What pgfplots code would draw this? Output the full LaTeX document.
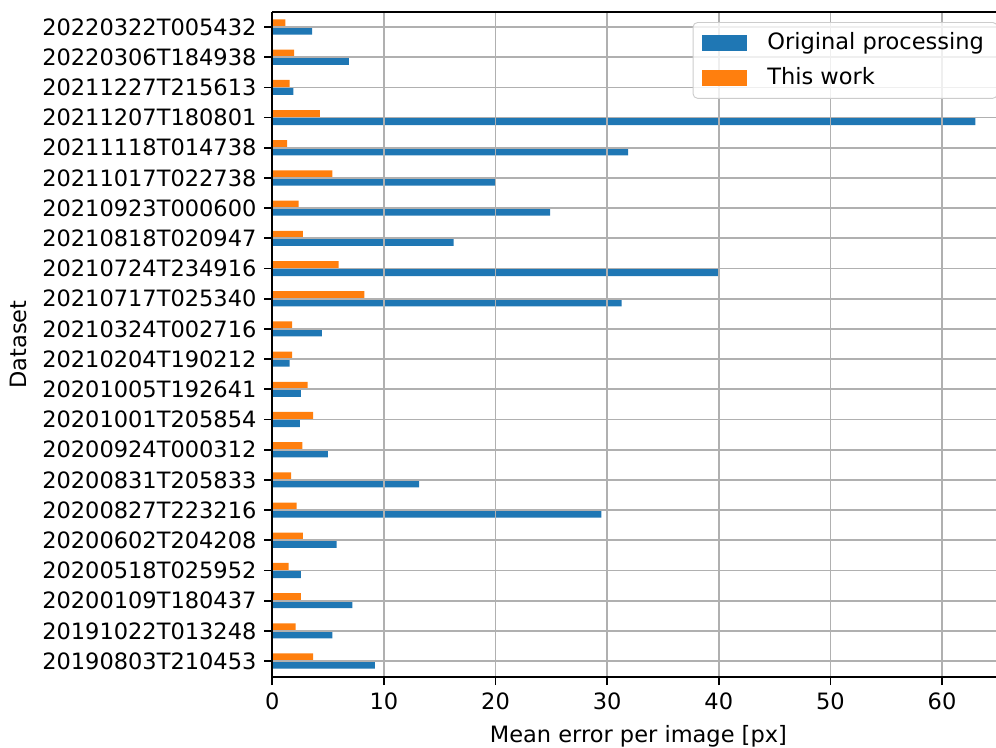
\documentclass[border=0pt]{standalone}
\usepackage{fontspec}
\setmainfont{DejaVu Sans}
\usepackage{pgfplots}
\pgfplotsset{compat=1.18}
\definecolor{mblue}{HTML}{1F77B4}
\definecolor{morange}{HTML}{FF7F0E}
\definecolor{mgrid}{HTML}{B0B0B0}
\begin{document}
\begin{tikzpicture}
\useasboundingbox (-121.0pt,-31.0pt) rectangle (321.6pt,301.0pt);
\begin{axis}[
  scale only axis,
  width=325.4pt, height=295.7pt,
  xmin=0, xmax=65.6,
  ymin=-0.54, ymax=21.5,
  xbar, bar width=0.25,
  ytick={0,...,21},
  yticklabels={20190803T210453,20191022T013248,20200109T180437,20200518T025952,20200602T204208,20200827T223216,20200831T205833,20200924T000312,20201001T205854,20201005T192641,20210204T190212,20210324T002716,20210717T025340,20210724T234916,20210818T020947,20210923T000600,20211017T022738,20211118T014738,20211207T180801,20211227T215613,20220306T184938,20220322T005432},
  xtick={0,10,...,60},
  /pgf/number format/assume math mode=true,
  grid=major, grid style={color=mgrid, line width=0.8pt},
  axis on top,
  axis x line*=box, axis y line*=left,
  axis line style={line width=0.8pt, black, -},
  xtick pos=left, ytick pos=left,
  tick align=outside,
  major tick length=3.5pt,
  tick style={black, line width=0.8pt},
  tick label style={font=\fontsize{10}{12}\selectfont},
  label style={font=\fontsize{10}{12}\selectfont},
  xlabel={Mean error per image [px]},
  ylabel={Dataset},
  legend cell align=left,
  legend style={at={(rel axis cs:1,1)}, anchor=north east, xshift=-3pt, yshift=-4.5pt,
    draw=black!20, rounded corners=2pt, fill=white, fill opacity=0.8, text opacity=1,
    font=\fontsize{10}{12}\selectfont, inner xsep=4pt, inner ysep=2.5pt, row sep=2.5pt},
]
\addplot[draw=none, fill=mblue, bar shift=-0.125,
  legend image code/.code={\fill[mblue, fill opacity=1, sharp corners] (0pt,-3.5pt) rectangle (20pt,3.5pt); \path (27pt,0pt);}]
  coordinates {
  (9.18,0) (5.38,1) (7.17,2) (2.57,3) (5.77,4) (29.48,5) (13.15,6) (4.99,7)
  (2.48,8) (2.57,9) (1.56,10) (4.45,11) (31.3,12) (40.1,13) (16.25,14) (24.9,15)
  (20.0,16) (31.88,17) (62.98,18) (1.88,19) (6.87,20) (3.56,21)};
\addlegendentry{Original processing}
\addplot[draw=none, fill=morange, bar shift=0.125,
  legend image code/.code={\fill[morange, fill opacity=1, sharp corners] (0pt,-3.5pt) rectangle (20pt,3.5pt); \path (27pt,0pt);}]
  coordinates {
  (3.65,0) (2.09,1) (2.57,2) (1.47,3) (2.75,4) (2.18,5) (1.68,6) (2.69,7)
  (3.65,8) (3.17,9) (1.77,10) (1.77,11) (8.25,12) (5.95,13) (2.75,14) (2.36,15)
  (5.38,16) (1.34,17) (4.27,18) (1.56,19) (1.95,20) (1.17,21)};
\addlegendentry{This work}
\end{axis}
\end{tikzpicture}
\end{document}
